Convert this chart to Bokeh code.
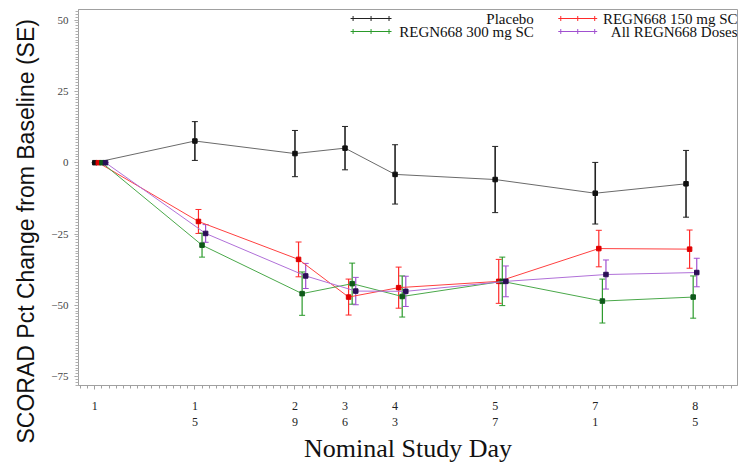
import numpy as np
from bokeh.plotting import figure
from bokeh.models import (ColumnDataSource, Whisker, TeeHead, FixedTicker,
                          Range1d, Label, Title)
from bokeh.embed import file_html
from bokeh.resources import INLINE

# ---------------- data ----------------
days = [1, 15, 29, 36, 43, 57, 71, 85]
day_labels = ["1", "1\n5", "2\n9", "3\n6", "4\n3", "5\n7", "7\n1", "8\n5"]
y_ticks = [-75, -50, -25, 0, 25, 50]

placebo_x = [1.0, 15.0, 29.0, 36.0, 43.0, 57.0, 71.0, 83.7]
placebo_mean = [0.0, 7.6, 3.2, 5.1, -4.1, -5.9, -10.7, -7.4]
placebo_se = [0.0, 6.8, 8.1, 7.6, 10.4, 11.6, 10.8, 11.7]

r150_x = [1.5, 15.5, 29.5, 36.5, 43.5, 57.5, 71.5, 84.2]
r150_mean = [0.0, -20.6, -33.9, -47.1, -43.8, -41.6, -30.1, -30.3]
r150_se = [0.0, 4.2, 6.1, 6.3, 7.2, 7.7, 6.4, 6.7]

r300_x = [2.0, 16.0, 30.0, 37.0, 44.0, 58.0, 72.0, 84.7]
r300_mean = [0.0, -28.9, -45.9, -42.4, -46.9, -41.6, -48.5, -47.1]
r300_se = [0.0, 4.2, 7.6, 7.2, 7.2, 8.5, 7.7, 7.4]

all_x = [2.5, 16.5, 30.5, 37.5, 44.5, 58.5, 72.5, 85.2]
all_mean = [0.0, -24.8, -39.7, -45.0, -45.1, -41.6, -39.2, -38.5]
all_se = [0.0, 3.1, 4.4, 4.8, 5.3, 5.4, 5.1, 5.0]

y_title = "SCORAD Pct Change from Baseline (SE)"
x_title = "Nominal Study Day"

series = [
    ("Placebo", placebo_x, placebo_mean, placebo_se, "#6a6a6a", "#111111", "#222222", 1.6),
    ("REGN668 150 mg SC", r150_x, r150_mean, r150_se, "#ff4040", "#e00000", "#ff2a2a", 1.2),
    ("REGN668 300 mg SC", r300_x, r300_mean, r300_se, "#4aa84a", "#0f5a1a", "#2a9a2a", 1.2),
    ("All REGN668 Doses", all_x, all_mean, all_se, "#b070d8", "#2a0f55", "#a050d0", 1.2),
]

X0, X1 = -1.28, 90.9
Y0, Y1 = -78.1, 53.7
FL, FR, FT, FB = 77, 737, 9, 385   # frame edges in the picture

p = figure(width=741, height=470, output_backend="svg", toolbar_location=None,
           x_range=Range1d(X0, X1), y_range=Range1d(Y0, Y1),
           min_border_left=FL, min_border_right=741 - FR, min_border_top=FT,
           min_border_bottom=470 - FB)
p.background_fill_color = "white"
p.border_fill_color = "white"
p.outline_line_color = "#a0a0a0"
p.grid.visible = False

# axes
xa = p.xaxis[0]
xa.ticker = FixedTicker(ticks=days, minor_ticks=list(range(-1, 91)))
xa.major_label_overrides = {d: l for d, l in zip(days, day_labels)}
xa.major_label_text_font = "Liberation Serif"
xa.major_label_text_font_size = "12px"
xa.major_label_text_color = "#222222"
xa.major_label_standoff = 9
xa.axis_label = x_title
xa.axis_label_text_font = "Liberation Serif"
xa.axis_label_text_font_style = "normal"
xa.axis_label_text_font_size = "26px"
xa.axis_label_text_color = "#111111"
xa.axis_label_standoff = 2
xa.axis_line_color = "#a0a0a0"
xa.major_tick_line_color = "#a0a0a0"
xa.minor_tick_line_color = "#a0a0a0"
xa.major_tick_out = 4
xa.major_tick_in = 0
xa.minor_tick_out = 3
xa.minor_tick_in = 0

ya = p.yaxis[0]
ya.ticker = FixedTicker(ticks=y_ticks, minor_ticks=list(range(-78, 54)))
ya.major_label_text_font = "Liberation Serif"
ya.major_label_text_font_size = "11px"
ya.major_label_text_color = "#444444"
ya.major_label_standoff = 6
ya.axis_line_color = "#a0a0a0"
ya.major_tick_line_color = "#a0a0a0"
ya.minor_tick_line_color = "#b0b0b0"
ya.major_tick_out = 4
ya.major_tick_in = 0
ya.minor_tick_out = 3
ya.minor_tick_in = 0

# y axis title: a left-side Title anchored below the frame bottom, like the
# reference (no-break spaces keep it on one line)
p.add_layout(Title(text=y_title.replace(" ", "\u00a0"), align="left",
                   offset=-58, standoff=20, text_font="Liberation Sans",
                   text_font_size="23px", text_font_style="normal",
                   text_color="#111111"), "left")

# series
for name, xs, ms, ses, lc, mc, ec, ew in series:
    lo = [m - s for m, s in zip(ms, ses)]
    hi = [m + s for m, s in zip(ms, ses)]
    src = ColumnDataSource(dict(x=xs, m=ms, lo=lo, hi=hi))
    p.line("x", "m", source=src, line_color=lc, line_width=1)
    w = Whisker(base="x", lower="lo", upper="hi", source=src,
                line_color=ec, line_width=ew,
                upper_head=TeeHead(size=6, line_color=ec, line_width=1),
                lower_head=TeeHead(size=6, line_color=ec, line_width=1))
    p.add_layout(w)
    p.scatter("x", "m", source=src, marker="square", size=4.5,
              fill_color=mc, line_color=mc)

# legend drawn manually (labels right-aligned as in the reference)
def px_x(px):
    return X0 + (px - FL) / (FR - FL) * (X1 - X0)

def px_y(py):
    return Y1 - (py - FT) / (FB - FT) * (Y1 - Y0)

legend_layout = [
    (0, 352, 388, 533, 18),
    (1, 560, 594, 737, 18),
    (2, 352, 388, 533, 31),
    (3, 560, 594, 737, 31),
]
for idx, g0, g1, tx, py in legend_layout:
    name, xs, ms, ses, lc, mc, ec, ew = series[idx]
    gy = px_y(py)
    gx = [px_x(g0), px_x((g0 + g1) / 2), px_x(g1)]
    p.line(gx, [gy] * 3, line_color=ec, line_width=1.2)
    p.scatter(gx, [gy] * 3, marker="cross", size=5, line_color=ec, line_width=1)
    p.add_layout(Label(x=px_x(tx), y=gy, text=name, text_align="right",
                       text_baseline="middle", text_font="Liberation Serif",
                       text_font_size="15px", text_color="#111111"))

open("out.html", "w").write(file_html(p, INLINE))
